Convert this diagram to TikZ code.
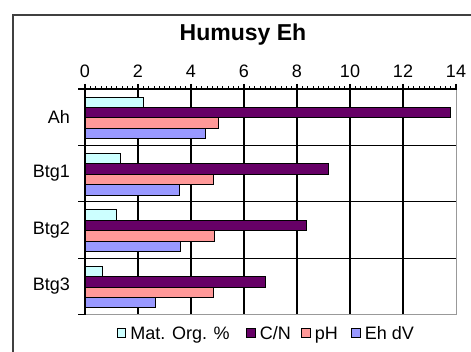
\documentclass[tikz,border=0pt]{standalone}
\usepackage{fontspec}
\setmainfont{Liberation Sans}
\usetikzlibrary{positioning}
\definecolor{moCol}{HTML}{CCFFFF}
\definecolor{cnCol}{HTML}{660066}
\definecolor{phCol}{HTML}{FF9999}
\definecolor{ehCol}{HTML}{9999FF}

\begin{document}
\begin{tikzpicture}[x=1pt,y=-1pt,
    bar/.style={draw=black,line width=0.9pt,fill=#1},
    grid line/.style={draw=black,line width=1.1pt},
    edge line/.style={draw=black!40,line width=1.3pt},
    ticklabel/.style={font=\fontsize{18}{18}\selectfont,inner sep=0pt},
    legbox/.style={draw=black,line width=0.8pt,fill=#1,minimum size=8.5pt,inner sep=0pt},
    legtext/.style={font=\fontsize{18}{18}\selectfont,inner sep=0pt,
                    text height=13pt,text depth=0pt,right=4pt of #1},
  ]
  \useasboundingbox (0,0) rectangle (471,352);
  % frame
  \draw[black!75,line width=2pt] (13,15) rectangle (490,370);
  % title
  \node[font=\fontsize{23}{23}\selectfont\bfseries] (title) at (243,35) {Humusy Eh};
  % grid
  \foreach \v in {2,4,...,12}
    \draw[grid line] ({85+26.5*\v},89) -- ({85+26.5*\v},314.7);
  \foreach \k in {1,2,3}
    \draw[grid line] (78,{89+56.4*\k}) -- (456.5,{89+56.4*\k});
  \draw[edge line] (456.5,89) -- (456.5,314.7) -- (85,314.7);
  % axes
  \draw[grid line] (78,89) -- (456.5,89);
  \draw[grid line] (85,89) -- (85,314.7);
  \draw[grid line] (78,314.7) -- (85,314.7);
  \foreach \v in {0,2,...,14}
    \draw[grid line] ({85+26.5*\v},84) -- ({85+26.5*\v},89);
  \foreach \m in {1,...,69}
    \draw[black,line width=0.8pt] ({85+5.3*\m},86.5) -- ({85+5.3*\m},89);
  % tick labels
  \foreach \v in {0,2,...,14}
    \node[ticklabel,anchor=base] (t\v) at ({85+26.5*\v},78) {\v};
  \foreach \c [count=\k from 0] in {Ah,Btg1,Btg2,Btg3}
    \node[ticklabel,anchor=east] (c\c) at (70,{89+56.4*\k+28.2}) {\c};
  % bars
  \foreach \k/\mo/\cn/\ph/\eh in {0/2.2/13.8/5.05/4.55,1/1.35/9.2/4.85/3.55,
                                  2/1.2/8.35/4.9/3.6,3/0.65/6.8/4.85/2.65}{
    \draw[bar=moCol] (85,{89+56.4*\k+8}) rectangle ({85+26.5*\mo},{89+56.4*\k+18.4});
    \draw[bar=cnCol] (85,{89+56.4*\k+18.4}) rectangle ({85+26.5*\cn},{89+56.4*\k+28.8});
    \draw[bar=phCol] (85,{89+56.4*\k+28.8}) rectangle ({85+26.5*\ph},{89+56.4*\k+39.2});
    \draw[bar=ehCol] (85,{89+56.4*\k+39.2}) rectangle ({85+26.5*\eh},{89+56.4*\k+49.6});
  }
  % legend
  \node[legbox=moCol] (sqMO) at (121.5,333) {};
  \node[legtext=sqMO] (lMO) {Mat. Org. \%};
  \node[legbox=cnCol] (sqCN) at (251,333) {};
  \node[legtext=sqCN] (lCN) {C/N};
  \node[legbox=phCol] (sqPH) at (306,333) {};
  \node[legtext=sqPH] (lPH) {pH};
  \node[legbox=ehCol] (sqEH) at (356,333) {};
  \node[legtext=sqEH] (lEH) {Eh dV};
\end{tikzpicture}
\end{document}
